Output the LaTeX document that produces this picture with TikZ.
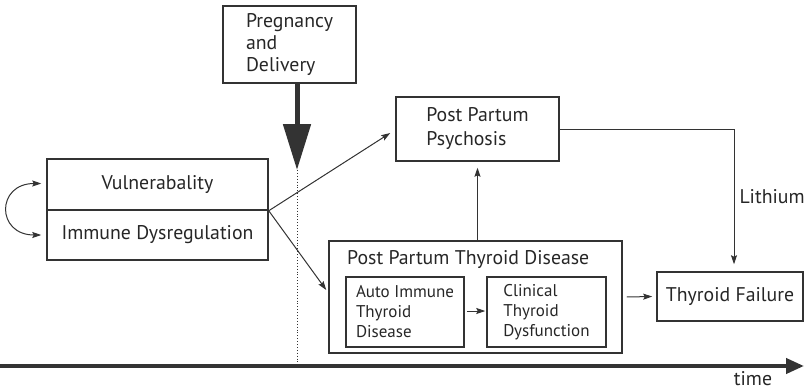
\documentclass[tikz,border=0pt]{standalone}
\usepackage{fontspec}
\setmainfont{PT Sans}
\usetikzlibrary{arrows.meta,calc}
\begin{document}
\begin{tikzpicture}[x=1pt,y=-1pt,
  every node/.style={font=\fontsize{19.8}{22}\selectfont, text=black!85},
  box/.style={draw=black!80, line width=1.5pt, rectangle, inner sep=0pt, align=left},
  small/.style={font=\fontsize{17}{20}\selectfont},
  conn/.style={draw=black!80, line width=1pt, -{Stealth[length=9pt,width=6pt,inset=1.5pt]}},
  bigarrow/.style={draw=black!80, line width=5pt, -{Triangle[length=46pt,width=27pt]}},
  axis/.style={draw=black!80, line width=4pt, -{Triangle[length=18pt,width=15pt]}}]
\useasboundingbox (0,0) rectangle (804,391);
% boxes
\node[box, minimum width=221pt, minimum height=51pt] (vul) at (157.5,184.5) {Vulnerabality};
\node[box, minimum width=221pt, minimum height=50pt] (imm) at (157.5,235) {Immune Dysregulation};
\node[box, minimum width=133pt, minimum height=77pt] (preg) at (289.5,44.5) {Pregnancy\\and\\Delivery};
\node[box, minimum width=163pt, minimum height=64pt, font=\fontsize{19.8}{24}\selectfont] (psy) at (477.5,129) {Post Partum\\Psychosis};
\node[box, minimum width=293pt, minimum height=112pt] (pptd) at (475.5,297) {};
\node[anchor=base west, inner sep=0pt] (pptdt) at (347,264) {Post Partum Thyroid Disease};
\node[box, small, minimum width=118pt, minimum height=70pt] (ait) at (405,312) {Auto Immune\\Thyroid\\Disease};
\node[box, small, minimum width=119pt, minimum height=70pt] (ctd) at (546.5,312) {Clinical\\Thyroid\\Dysfunction};
\node[box, minimum width=146pt, minimum height=49pt] (tf) at (730,296.5) {Thyroid Failure};
% coordinates
\coordinate (pd) at (297,170);
\coordinate (pdb) at (297,362);
\coordinate (t0) at (0,366);
\coordinate (t1) at (804,366);
\node[anchor=center, inner sep=0pt] (time) at (753,378.5) {time};
% timeline & pregnancy arrow
\draw[dotted, line width=0.9pt, black!80] (pd) -- (pdb);
\draw[axis] (t0) -- (t1);
\draw[bigarrow] (preg.south -| pd) -- (pd);
% connectors
\draw[conn, {Stealth[length=9pt,width=6pt,inset=1.5pt]}-{Stealth[length=9pt,width=6pt,inset=1.5pt]}]
  ($(vul.west)+(-5,-1)$) to[out=180,in=180,looseness=2.25] ($(imm.west)+(-5,0)$);
\draw[conn] (vul.south east) -- ($(psy.west)+(-5,4)$);
\draw[conn] (vul.south east) -- ($(pptd.west)+(-2,-7)$);
\draw[conn] (psy.south |- pptd.north) -- ($(psy.south)+(0,6)$);
\draw[conn] ($(ait.east)+(2,-1)$) -- ($(ctd.west)+(-1,-1)$);
\draw[conn] ($(pptd.east)+(4,0)$) -- ($(tf.west)+(-4,0)$);
\draw[conn] (psy.east) -| ($(tf.north)+(4,-7)$) node[pos=0.75, anchor=west, inner sep=5pt] (li) {Lithium};
\end{tikzpicture}
\end{document}
